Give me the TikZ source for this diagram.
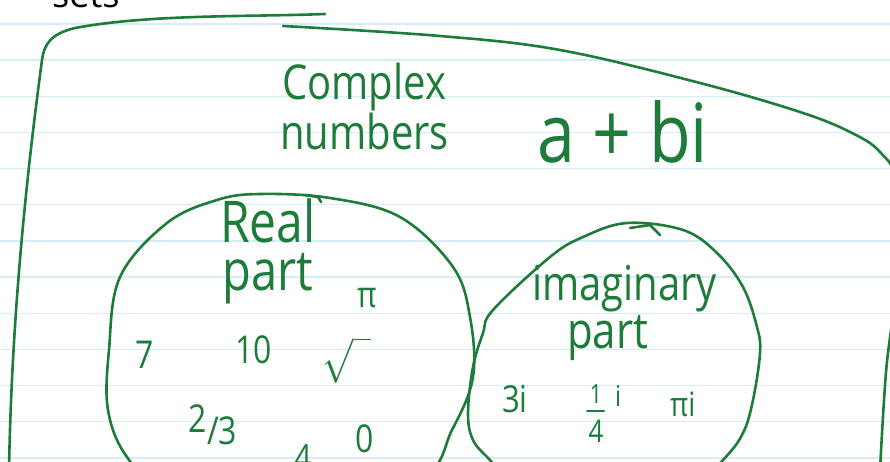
\documentclass[tikz,border=0pt]{standalone}
\usepackage{fontspec}
\setmainfont{Open Sans}
\definecolor{NoteInk}{RGB}{29,124,58}
\definecolor{NoteRule}{RGB}{214,236,250}
\tikzset{NoteStroke/.style={draw=NoteInk,line width=2.6pt,line cap=round,line join=round},
         NoteRuleLine/.style={draw=NoteRule,line width=1.4pt},
         NoteText/.style={text=NoteInk,inner sep=0pt,yscale=1.2,transform shape}}

\begin{document}
\begin{tikzpicture}[x=1pt,y=-1pt]
  \useasboundingbox (0,0) rectangle (890,462);
  \clip (0,0) rectangle (890,462);
  % ruled paper
  \foreach \k in {0,...,12}
    \draw[NoteRuleLine] (0,24+36.15*\k) -- (890,24+36.15*\k);
  % heading from the line above, cut off
  \node[anchor=base west,inner sep=0pt,font=\fontsize{36}{40}\selectfont] (setsHead) at (52,8) {sets};
  % outer set: complex numbers
  \draw[NoteStroke] (325,14) .. controls (250,17) and (150,14) .. (75,28)
    .. controls (50,34) and (44,45) .. (42,60)
    .. controls (30,150) and (12,300) .. (9,470);
  \draw[NoteStroke] plot[smooth,tension=.6] coordinates {(283,26) (440,36) (560,50)
    (700,83) (800,112) (850,132) (880,152) (896,185) (895,290) (886,372) (880,470)};
  \node[NoteText,anchor=base west,font=\fontsize{40}{44}\selectfont] (complexA) at (282,100) {Complex};
  \node[NoteText,anchor=base west,font=\fontsize{40}{44}\selectfont] (complexB) at (280,150) {numbers};
  \node[NoteText,anchor=base west,font=\fontsize{68}{72}\selectfont] (abi) at (537,163) {a + bi};
  % real part
  \draw[NoteStroke] plot[smooth cycle,tension=.6] coordinates {(260,194) (330,198) (400,217)
    (453,267) (470,317) (473,377) (452,430) (420,480) (300,520) (170,495) (127,457)
    (108,410) (109,350) (120,277) (167,223) (217,200)};
  \draw[NoteStroke] (305,195) -- (318,197) -- (321,202);
  \node[NoteText,anchor=base west,font=\fontsize{48}{52}\selectfont] (realA) at (220,242) {Real};
  \node[NoteText,anchor=base west,font=\fontsize{47}{50}\selectfont] (realB) at (222,290) {part};
  \node[NoteText,anchor=base west,font=\fontsize{30}{34}\selectfont] (rPi) at (357,307) {π};
  \node[NoteText,anchor=base west,font=\fontsize{32}{34}\selectfont] (rSeven) at (135,368) {7};
  \node[NoteText,anchor=base west,font=\fontsize{32}{34}\selectfont] (rTen) at (235,363) {10};
  \node[NoteText,font=\fontsize{24}{28}\selectfont] (rRoot) at (347,360) {\scalebox{1.5}{$\sqrt{\phantom{0}}$}};
  \node[NoteText,font=\fontsize{32}{34}\selectfont] (rFrac) at (213,425) {\raisebox{.3em}{2}/3};
  \node[NoteText,anchor=base west,font=\fontsize{32}{34}\selectfont] (rZero) at (355,452) {0};
  \node[NoteText,anchor=north,font=\fontsize{30}{34}\selectfont] (rFour) at (303,444) {4};
  % imaginary part
  \draw[NoteStroke] plot[smooth cycle,tension=.6] coordinates {(627,223) (683,230) (717,253)
    (743,287) (757,327) (760,353) (753,400) (743,433) (723,460) (680,500) (600,510)
    (520,490) (490,460) (473,440) (468,413) (473,367) (483,333) (493,310) (550,257) (583,237)};
  \draw[NoteStroke] (630,228) -- (650,225) -- (660,235);
  \node[NoteText,anchor=base west,font=\fontsize{40}{44}\selectfont] (imagA) at (532,300) {imaginary};
  \node[NoteText,anchor=base west,font=\fontsize{42}{44}\selectfont] (imagB) at (567,348) {part};
  \node[NoteText,anchor=base west,font=\fontsize{31}{34}\selectfont] (iThree) at (502,412) {3i};
  \node[NoteText,anchor=base,font=\fontsize{22}{24}\selectfont] (iOne) at (596,403) {1};
  \draw[NoteStroke,line width=2pt] (587,411) -- (604,411);
  \node[NoteText,anchor=base,font=\fontsize{26}{28}\selectfont] (iFour) at (596,442) {4};
  \node[NoteText,anchor=base west,font=\fontsize{24}{28}\selectfont] (iOneI) at (615,406) {i};
  \node[NoteText,anchor=base west,font=\fontsize{28}{30}\selectfont] (iPi) at (670,416) {πi};
\end{tikzpicture}
\end{document}
